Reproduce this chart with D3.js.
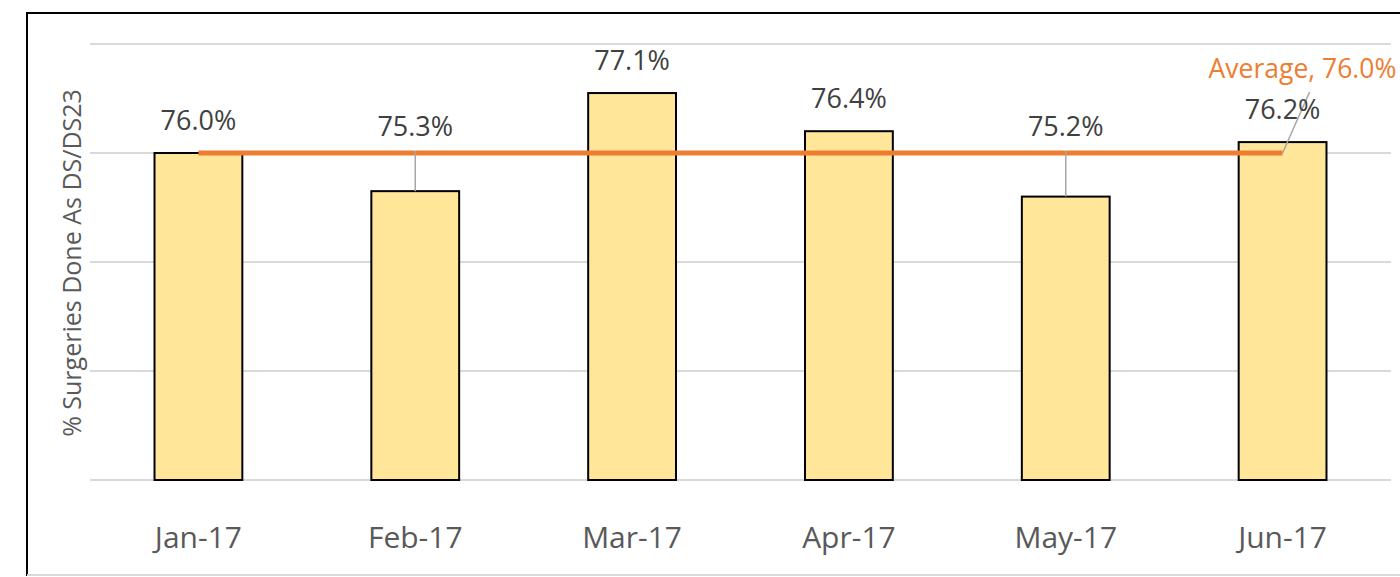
<!DOCTYPE html>
<html>
<head>
<meta charset="utf-8">
<script src="https://cdn.jsdelivr.net/npm/d3@7"></script>
<style>
  body { margin: 0; background: #fff; }
  text { font-family: "Open Sans", sans-serif; }
</style>
</head>
<body>
<div id="chart"></div>
<script>
var months = ["Jan-17", "Feb-17", "Mar-17", "Apr-17", "May-17", "Jun-17"];
var pctDS = [76.0, 75.3, 77.1, 76.4, 75.2, 76.2];
var average = 76.0;
var yTicks = [70, 72, 74, 76, 78];

function drawChart() {
  var W = 1400, H = 577;
  var margin = { top: 44, right: 9, bottom: 97, left: 90 },
    width = W - margin.left - margin.right,
    height = H - margin.top - margin.bottom;

  var root = d3
    .select("#chart")
    .append("svg")
    .attr("width", W)
    .attr("height", H);

  // frame of the chart area (right edge falls off the picture)
  root
    .append("rect")
    .attr("x", 27)
    .attr("y", 13)
    .attr("width", 1400)
    .attr("height", 562)
    .attr("fill", "none")
    .attr("stroke", "#000")
    .attr("stroke-width", 2);
  root
    .append("line")
    .attr("x1", 27)
    .attr("x2", W)
    .attr("y1", 575)
    .attr("y2", 575)
    .attr("stroke", "#d9d9d9")
    .attr("stroke-width", 2);

  var svg = root
    .append("g")
    .attr("transform", "translate(" + margin.left + "," + margin.top + ")");

  var x = d3.scaleBand().domain(months).range([0, width]).padding(0);
  var y = d3.scaleLinear().domain([70, 78]).range([height, 0]);
  var barW = x.bandwidth() * 0.405;

  // gridlines
  svg
    .selectAll(".grid")
    .data(yTicks)
    .enter()
    .append("line")
    .attr("x1", 0)
    .attr("x2", width)
    .attr("y1", (d) => y(d))
    .attr("y2", (d) => y(d))
    .attr("stroke", "#d9d9d9")
    .attr("stroke-width", 2);

  // bars
  svg
    .selectAll(".bar")
    .data(pctDS)
    .enter()
    .append("rect")
    .attr("x", (d, i) => x(months[i]) + x.bandwidth() / 2 - barW / 2)
    .attr("y", (d) => y(d))
    .attr("width", barW)
    .attr("height", (d) => height - y(d))
    .attr("fill", "#FFE699")
    .attr("stroke", "#000")
    .attr("stroke-width", 2);

  // x axis labels
  svg
    .selectAll(".xlab")
    .data(months)
    .enter()
    .append("text")
    .attr("x", (d) => x(d) + x.bandwidth() / 2)
    .attr("y", height + 68)
    .attr("text-anchor", "middle")
    .attr("fill", "#595959")
    .style("font-size", "30px")
    .text((d) => d);

  // average line
  var cx0 = x(months[0]) + x.bandwidth() / 2;
  var cx1 = x(months[months.length - 1]) + x.bandwidth() / 2;
  svg
    .append("line")
    .attr("x1", cx0)
    .attr("x2", cx1)
    .attr("y1", y(average))
    .attr("y2", y(average))
    .attr("stroke", "#ED7D31")
    .attr("stroke-width", 5);

  // leader for the average label
  svg
    .append("line")
    .attr("x1", cx1)
    .attr("y1", y(average))
    .attr("x2", cx1 + 27)
    .attr("y2", y(average) - 61)
    .attr("stroke", "#a6a6a6")
    .attr("stroke-width", 1.5);

  svg
    .append("text")
    .attr("x", cx1 - 74)
    .attr("y", y(average) - 75)
    .attr("fill", "#ED7D31")
    .style("font-size", "26.5px")
    .text("Average, " + average.toFixed(1) + "%");

  // data labels: bars under the average get lifted above the line with a leader
  pctDS.forEach(function (d, i) {
    var cx = x(months[i]) + x.bandwidth() / 2;
    var ly;
    if (d < average) {
      ly = y(average) - 17;
      svg
        .append("line")
        .attr("x1", cx)
        .attr("x2", cx)
        .attr("y1", y(average) - 2)
        .attr("y2", y(d))
        .attr("stroke", "#a6a6a6")
        .attr("stroke-width", 1.5);
    } else {
      ly = y(d) - 23;
    }
    svg
      .append("text")
      .attr("x", cx)
      .attr("y", ly)
      .attr("text-anchor", "middle")
      .attr("fill", "#404040")
      .style("font-size", "27px")
      .text(d.toFixed(1) + "%");
  });

  // y axis title
  root
    .append("text")
    .attr("transform", "translate(81," + 263 + ") rotate(-90)")
    .attr("text-anchor", "middle")
    .attr("fill", "#595959")
    .style("font-size", "25px")
    .text("% Surgeries Done As DS/DS23");
}

drawChart();
</script>
</body>
</html>
